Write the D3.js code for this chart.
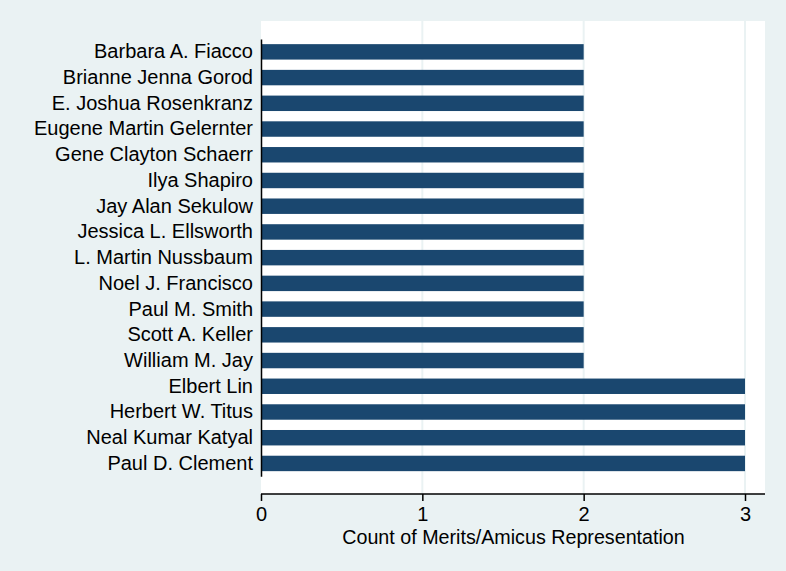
<!DOCTYPE html>
<html><head><meta charset="utf-8">
<script src="https://cdn.jsdelivr.net/npm/d3@7"></script>
<style>body{margin:0;background:#EAF2F3;} svg{display:block;}</style>
</head><body>
<svg id="c" width="786" height="571"></svg>
<script>
const names = ["Barbara A. Fiacco","Brianne Jenna Gorod","E. Joshua Rosenkranz","Eugene Martin Gelernter","Gene Clayton Schaerr","Ilya Shapiro","Jay Alan Sekulow","Jessica L. Ellsworth","L. Martin Nussbaum","Noel J. Francisco","Paul M. Smith","Scott A. Keller","William M. Jay","Elbert Lin","Herbert W. Titus","Neal Kumar Katyal","Paul D. Clement"];
const counts = [2,2,2,2,2,2,2,2,2,2,2,2,2,3,3,3,3];
const xTicks = [0,1,2,3];
const xTitle = "Count of Merits/Amicus Representation";

const FONT = "'Liberation Sans', Arial, sans-serif";
const svg = d3.select("#c");
svg.append("rect").attr("width",786).attr("height",571).attr("fill","#EAF2F3");
const L=261, R=765, T=21, B=494;
svg.append("rect").attr("x",L).attr("y",T).attr("width",R-L).attr("height",B-T).attr("fill","#fff");
const x = d3.scaleLinear().domain([0,3]).range([261,745]);
const y = d3.scaleBand().domain(names).range([39,476.3]).paddingInner(0.4).paddingOuter(0.2);
svg.append("g").selectAll("line").data(xTicks.filter(d=>d>0)).join("line")
  .attr("x1",d=>x(d)).attr("x2",d=>x(d)).attr("y1",T).attr("y2",B)
  .attr("stroke","#EAF2F3").attr("stroke-width",2);
svg.append("g").selectAll("rect").data(names).join("rect")
  .attr("x",x(0)).attr("y",d=>y(d)).attr("height",y.bandwidth())
  .attr("width",(d,i)=>x(counts[i])-x(0)).attr("fill","#1A476F");
const ya = svg.append("g").attr("transform",`translate(${L},0)`).call(d3.axisLeft(y).tickSize(0).tickPadding(8));
ya.attr("font-family",FONT).attr("font-size",20);
ya.select(".domain").attr("stroke","#000").attr("stroke-width",1.5);
ya.selectAll("text").attr("fill","#000");
const xa = svg.append("g").attr("transform",`translate(0,${B})`).call(d3.axisBottom(x).tickValues(xTicks).tickFormat(d3.format("d")).tickSize(7).tickPadding(6).tickSizeOuter(0));
xa.attr("font-family",FONT).attr("font-size",20);
xa.select(".domain").attr("d",`M${L},0H${R}`).attr("stroke","#000").attr("stroke-width",1.5);
xa.selectAll("line").attr("stroke","#000").attr("stroke-width",1.5);
xa.selectAll("text").attr("fill","#000");
svg.append("text").attr("x",(L+R)/2 + 0.5).attr("y",544).attr("text-anchor","middle")
  .attr("font-family",FONT).attr("font-size",19.7).attr("fill","#000").text(xTitle);
</script>
</body></html>
